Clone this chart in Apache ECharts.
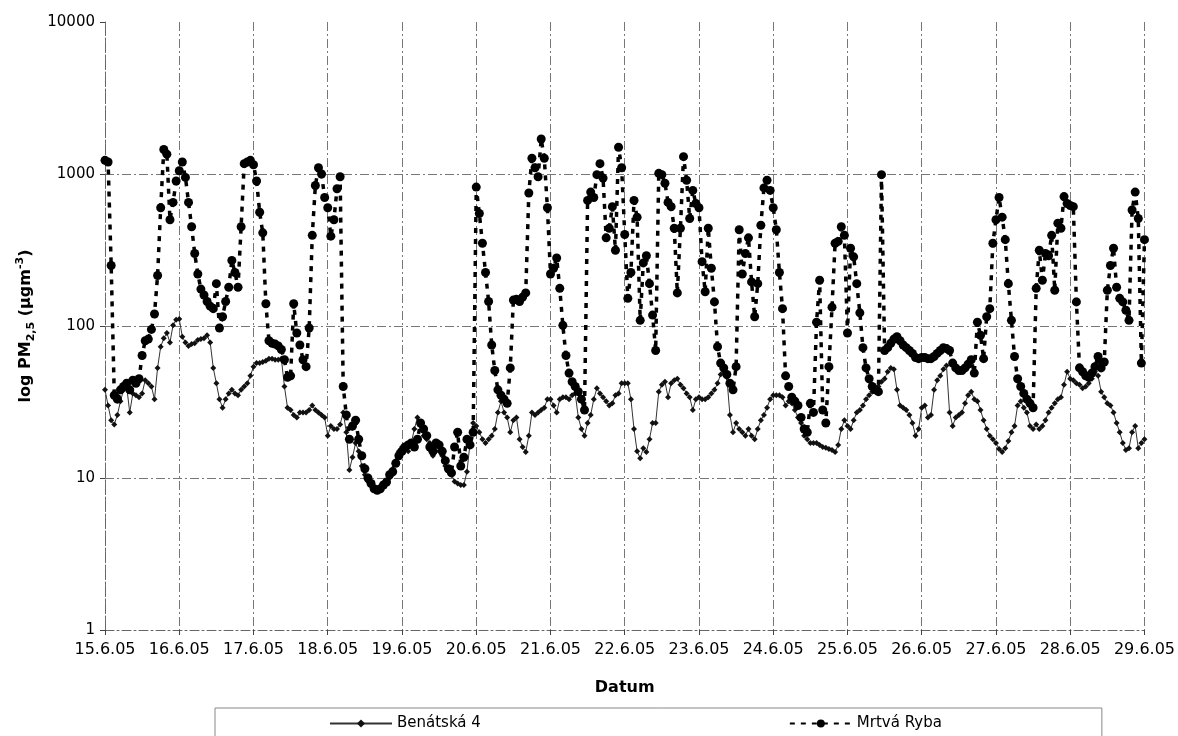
<!DOCTYPE html>
<html>
<head>
<meta charset="utf-8">
<script src="https://cdn.jsdelivr.net/npm/echarts@6/dist/echarts.min.js"></script>
<style>
html,body{margin:0;padding:0;background:#fff;}
#chart{width:1178px;height:736px;}
</style>
</head>
<body>
<div id="chart"></div>
<script>
// Day tick labels (one per 24 hourly points)
var dateLabels = ['15.6.05','16.6.05','17.6.05','18.6.05','19.6.05','20.6.05','21.6.05','22.6.05','23.6.05','24.6.05','25.6.05','26.6.05','27.6.05','28.6.05','29.6.05'];
var yTicks = ['1','10','100','1000','10000'];

// Benátská 4 – hourly PM2.5 (µg/m3)
var benatska = [
  38,30,24,22.5,26,32,38,40,27,36,35,34,36,44,42,40,33,53,73,83,90,78,101,110,
  111,85,78,74,76,77,81,82,83,87,78,53,42,33,29,33,36,38,36,35,38,40,42,47,
  54,57,57,58,59,61,61,60,60,61,40,29,28,26,25,27,27,27,28,30,28,27,26,25,
  19,22,21,21,22.5,27,20,11.3,13.7,17,15,12,10.5,9.5,9,8.5,8.2,8.4,8.8,9.2,10,11.5,13,15,
  16,16,15,17,21,25,22,19,18,17,14,15,17,14,12,11,10.5,9.5,9.2,9,9,11,17,23,
  22,20,18,17,18,19,21,27,32,27,25,20,24,25,18,16,14.8,19,27,26,27,28,29,33,
  33,30,27,33,34,34,33,35,36,25,21,19,23,26,33,39,36,34,32,30,31,35,36,42,
  42,42,33,21,15,13.5,15.7,14.8,18,23,23,37,41,43,34,42,44,45,41,39,36,34,28,33,
  34,33,33,34,36,38,42,48,50,46,26,20,23,21,20,19,21,19,18,21,24,26,29,33,
  35,35,35,34,30,32,31,28,25,23,19,18,17,17,17,16.5,16,15.8,15.5,15.3,14.8,16.5,21,24,
  22,21,24,27,28,30,33,35,37,38,40,43,45,50,53,52,38,30,29,28,26,23,19,21,
  29,30,25,26,38,44,47,52,55,27,22,25,26,27,31,35,37,33,32,28,24,21,19,18,
  17,15.5,14.8,15.7,17.5,20,22,30,32,29,27,22,21,22.5,21,22,24,27,29,31,33,34,41,50,
  45,44,42,41,39,40,42,45,50,47,37,34,31,30,27,23,20,17,15.3,15.7,20,22,15.7,17,18
];

// Mrtvá Ryba – hourly PM2.5 (µg/m3)
var mrtvaRyba = [
  1230,1200,250,35,33,38,40,42,38,44,42,45,64,80,82,95,120,215,600,1450,1350,500,650,900,
  1050,1200,950,650,450,300,220,175,160,145,135,130,190,97,115,145,180,270,225,180,450,1170,1200,1230,
  1150,900,560,410,140,80,77,76,74,70,60,46,47,140,90,75,60,54,97,395,840,1100,1000,700,
  600,390,500,800,960,40,26,18,22,24,18,14,11.5,10,9.2,8.5,8.3,8.5,9,9.4,10.5,11,12.5,14,
  15,16,16.5,17,16,18,23,21,19,16,15,17,16.5,15,13,11.5,10.8,16,20,12,13.7,18,16.5,20,
  820,550,350,225,145,75,51,38,35,33,31,53,148,150,145,155,165,750,1270,1100,960,1700,1270,600,
  220,240,280,177,101,64,49,43,40,37,33,28,670,760,700,990,1170,940,380,440,610,315,1500,1100,
  400,152,225,670,520,109,260,290,190,118,69,1010,990,870,650,610,440,165,440,1300,910,510,780,640,
  600,265,168,440,240,144,73,57,53,48,42,38,54,430,220,300,380,195,115,190,460,810,910,780,
  600,430,225,130,47,40,34,32,30,25,21,20,31,27,106,200,28,23,54,133,350,360,450,395,
  90,325,285,190,122,72,53,45,40,38,37,990,69,72,77,82,85,80,75,72,69,66,62,61,
  62,62,61,61,63,66,69,72,71,69,57,53,51,51,53,56,60,49,106,87,61,115,130,350,
  500,700,520,370,190,109,63,45,40,36,33,31,29,177,315,200,300,290,395,172,475,440,710,640,
  620,610,144,53,50,47,46,49,54,63,53,58,172,250,325,180,152,144,127,109,580,760,510,57,370
];

var hours = [];
for (var i = 0; i < benatska.length; i++) hours.push(String(i));

var FONT = 'DejaVu Sans, Liberation Sans, Arial, sans-serif';
var gridDash = [9, 3, 2, 3];
var chart = echarts.init(document.getElementById('chart'), null, {renderer: 'canvas'});
chart.setOption({
  backgroundColor: '#ffffff',
  animation: false,
  textStyle: {fontFamily: FONT, color: '#000'},
  grid: {left: 105, right: 31, top: 22, bottom: 106, containLabel: false},
  legend: {
    left: 215, top: 708,
    padding: [8, 160, 20, 114],
    itemGap: 308,
    itemWidth: 62, itemHeight: 10,
    borderColor: '#888', borderWidth: 1,
    textStyle: {fontSize: 15, color: '#000', fontFamily: FONT},
    data: ['Benátská 4', 'Mrtvá Ryba']
  },
  xAxis: {
    type: 'category',
    data: hours,
    boundaryGap: false,
    name: 'Datum',
    nameLocation: 'middle',
    nameGap: 50,
    nameTextStyle: {fontSize: 16, fontWeight: 'bold', color: '#000', fontFamily: FONT},
    axisLine: {show: true, lineStyle: {color: '#666', width: 1, type: gridDash}},
    axisTick: {show: true, interval: 23, length: 5, inside: false, lineStyle: {color: '#444'}},
    axisLabel: {
      interval: 23, fontSize: 16, color: '#000', margin: 12, fontFamily: FONT,
      formatter: function (v, idx) { return dateLabels[Math.round(idx / 24)] || ''; }
    },
    splitLine: {show: true, interval: 23, lineStyle: {color: '#777', width: 1, type: gridDash}}
  },
  yAxis: {
    type: 'log',
    logBase: 10,
    min: 1,
    max: 10000,
    name: '{b|log PM}{s|2,5}{b| (μgm}{p|-3}{b|)}',
    nameLocation: 'middle',
    nameGap: 66,
    nameRotate: 90,
    nameTextStyle: {
      fontFamily: FONT,
      rich: {
        b: {fontSize: 16, fontWeight: 'bold', color: '#000', lineHeight: 22, verticalAlign: 'middle', fontFamily: FONT},
        s: {fontSize: 11, fontWeight: 'bold', color: '#000', lineHeight: 22, verticalAlign: 'bottom', fontFamily: FONT},
        p: {fontSize: 11, fontWeight: 'bold', color: '#000', lineHeight: 22, verticalAlign: 'top', fontFamily: FONT}
      }
    },
    axisLine: {show: true, lineStyle: {color: '#666', width: 1, type: gridDash}},
    axisTick: {show: true, length: 5, lineStyle: {color: '#444'}},
    axisLabel: {
      fontSize: 15, color: '#000', margin: 10, fontFamily: FONT,
      formatter: function (v) {
        var k = Math.round(Math.log10(v));
        return yTicks[k] !== undefined ? yTicks[k] : '';
      }
    },
    splitLine: {show: true, lineStyle: {color: ['#777', '#777', '#777', '#777', 'rgba(0,0,0,0)'], width: 1, type: gridDash}}
  },
  series: [
    {
      name: 'Benátská 4',
      type: 'line',
      data: benatska,
      showAllSymbol: true,
      symbol: 'diamond',
      symbolSize: 6,
      itemStyle: {color: '#111'},
      lineStyle: {color: '#333', width: 1},
      z: 2
    },
    {
      name: 'Mrtvá Ryba',
      type: 'line',
      data: mrtvaRyba,
      showAllSymbol: true,
      symbol: 'circle',
      symbolSize: 9,
      itemStyle: {color: '#000'},
      lineStyle: {color: '#000', width: 3.5, type: [5, 6]},
      z: 3
    }
  ]
});
</script>
</body>
</html>
